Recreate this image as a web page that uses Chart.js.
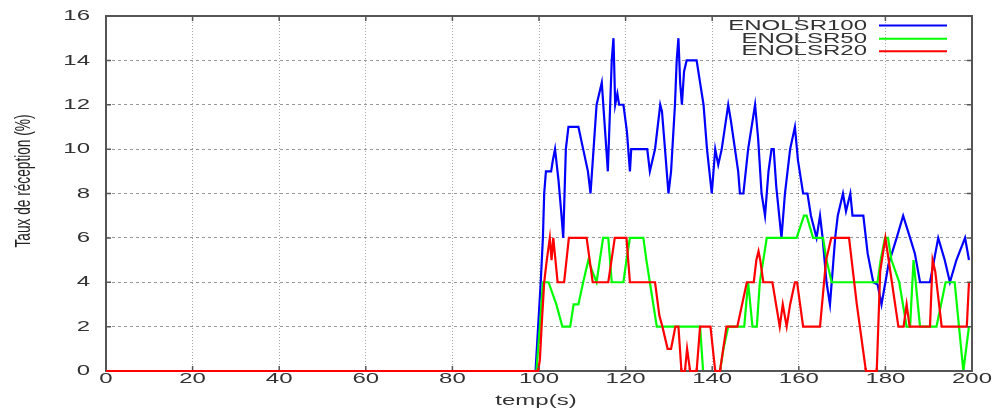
<!DOCTYPE html>
<html>
<head>
<meta charset="utf-8">
<script src="https://cdn.jsdelivr.net/npm/chart.js@4.4.1/dist/chart.umd.min.js"></script>
<style>
  html, body { margin: 0; padding: 0; background: #fff; }
  #wrap { width: 998px; height: 412px; }
</style>
</head>
<body>
<div id="wrap"><canvas id="chart" width="998" height="412"></canvas></div>
<script>
// valeurs (temps en s, taux en %)
const seriesNames = ['ENOLSR100', 'ENOLSR50', 'ENOLSR20'];
const seriesColors = ['#0000ff', '#00ff00', '#ff0000'];

const t100 = [0, 99.2, 99.8, 100.4, 100.9, 101.2, 101.6, 102.8, 103.2, 103.7, 104.5, 105.2, 105.6, 106.2, 106.8, 109.1, 110.2, 111.3, 111.9, 113.3, 114.5, 115.2, 115.9, 116.8, 117.2, 117.6, 118.1, 118.5, 119.5, 120.3, 121, 121.3, 125, 125.6, 126.8, 128, 128.4, 129.1, 129.9, 130.5, 131.4, 131.8, 132.2, 132.6, 133, 133.5, 134.1, 136.4, 137.2, 138, 138.8, 139.9, 140.7, 141.4, 142.2, 143.7, 144.3, 146, 146.4, 147.2, 148.3, 149.9, 150.6, 151.4, 152.2, 153, 153.7, 154.2, 154.8, 156, 156.8, 158, 159.1, 159.8, 161, 162, 162.8, 164.1, 164.9, 165.5, 166.4, 167.2, 168.4, 169, 170.2, 170.9, 171.9, 172.4, 174.9, 175.9, 177.2, 178.2, 179.1, 180, 180.7, 182.6, 184.1, 185.7, 186.8, 188, 190.3, 192.2, 193.7, 194.9, 196.4, 198.4, 199.3];
const v100 = [0, 0, 2, 4, 6, 8, 9, 9, 9.5, 10, 8.6, 7, 6, 10, 11, 11, 10, 9, 8, 12, 13, 11, 9, 14, 15, 12, 12.5, 12, 12, 10.8, 9, 10, 10, 9, 10, 12, 11.7, 10, 8, 9, 12, 14, 15, 13, 12, 13.5, 14, 14, 13, 12, 10, 8, 10, 9.3, 10, 12, 11.3, 9, 8, 8, 10, 12, 10.5, 8, 7, 9, 10, 10, 8.3, 6, 8, 10, 11, 9.5, 8, 8, 7, 6, 7, 6, 4, 3, 6, 7, 8, 7.2, 8, 7, 7, 5.3, 4, 3.9, 3, 4, 4.8, 6, 7, 6, 5.3, 4, 4, 6, 5, 4, 5, 6, 5];

const t50 = [0, 99.4, 100.2, 100.9, 102.2, 104, 105.4, 107.2, 108, 109.1, 110.2, 111.4, 112.3, 113.3, 114.8, 116, 116.8, 119.5, 120.2, 121, 124.1, 124.8, 125.6, 126.4, 127.2, 137.2, 137.9, 141.8, 142.6, 143.7, 147.4, 148.3, 149.3, 150.3, 151, 152.6, 159.5, 161.2, 161.8, 163.3, 165.6, 166.4, 167.6, 178.2, 178.9, 179.9, 180.6, 181.4, 183.2, 184.9, 185.7, 186.5, 188, 191.8, 193.9, 196, 198, 199.3];
const v50 = [0, 0, 2, 4, 4, 3, 2, 2, 3, 3, 4, 5, 4.5, 4, 6, 6, 4, 4, 5, 6, 6, 5, 4, 3, 2, 2, 0, 0, 1, 2, 2, 4, 2, 2, 4, 6, 6, 7, 7, 6, 6, 5, 4, 4, 5, 6, 6, 5, 4, 2, 2, 5, 2, 2, 4, 4, 0, 2];

const t20 = [0, 99.8, 100.2, 100.6, 101.2, 101.8, 102.5, 102.9, 103.3, 104.3, 105.8, 106.9, 111, 112.4, 116, 117.5, 120.2, 121, 126.8, 127.8, 128.5, 129.7, 130.5, 131.5, 132.2, 132.9, 133.7, 134.2, 134.9, 136.4, 137.2, 139.6, 140.7, 141.8, 143.3, 145.8, 148, 149.6, 150.2, 150.7, 151.1, 151.8, 153.9, 155.6, 156.3, 157.2, 158, 159.1, 159.6, 161, 164.9, 166.3, 167.5, 171.6, 173.4, 175.5, 178, 178.8, 180, 181.5, 183, 184.2, 184.9, 185.6, 190.3, 190.9, 191.5, 193, 198.8, 199.3];
const v20 = [0, 0, 0.5, 2, 4, 5, 6, 5, 6, 4, 4, 6, 6, 4, 4, 6, 6, 4, 4, 2.5, 2, 1, 1, 2, 2, 0, 0, 1, 0, 0, 2, 2, 0, 0, 2, 2, 4, 4, 5, 5.4, 5, 4, 4, 2, 3, 2, 3, 4, 4, 2, 2, 5, 6, 6, 3, 0, 0, 4.5, 6, 4, 2, 2, 3, 2, 2, 5, 4.5, 2, 2, 4];

const xTicks = [0, 20, 40, 60, 80, 100, 120, 140, 160, 180, 200];
const yTicks = [0, 2, 4, 6, 8, 10, 12, 14, 16];

const toPoints = (ts, vs) => ts.map((t, i) => ({ x: t, y: vs[i] }));

// le PNG d'origine est étiré horizontalement, on fait pareil pour le texte
const SX = 1.6;
const FONT = '"Liberation Sans", Arial, sans-serif';

function stretchText(ctx, text, x, y, align, size, color) {
    ctx.save();
    ctx.translate(x, y);
    ctx.scale(SX, 1);
    ctx.font = size + 'px ' + FONT;
    ctx.fillStyle = color;
    ctx.textAlign = align;
    ctx.textBaseline = 'middle';
    ctx.fillText(text, 0, 0);
    ctx.restore();
}

const framePlugin = {
    id: 'gnuframe',
    afterDraw(chart) {
        const { ctx, chartArea: a, scales } = chart;

        // cadre + graduations (la grille vient de Chart.js)
        ctx.save();
        ctx.strokeStyle = '#555555';
        ctx.lineWidth = 2;
        ctx.strokeRect(a.left, a.top, a.right - a.left, a.bottom - a.top);
        ctx.lineWidth = 1.5;
        ctx.beginPath();
        xTicks.forEach(v => {
            const px = scales.x.getPixelForValue(v);
            ctx.moveTo(px, a.bottom); ctx.lineTo(px, a.bottom - 5);
            ctx.moveTo(px, a.top); ctx.lineTo(px, a.top + 5);
        });
        yTicks.forEach(v => {
            const py = scales.y.getPixelForValue(v);
            ctx.moveTo(a.left, py); ctx.lineTo(a.left + 5, py);
            ctx.moveTo(a.right, py); ctx.lineTo(a.right - 5, py);
        });
        ctx.stroke();
        ctx.restore();

        // la courbe rouge repasse sur le cadre en bas, comme dans l'original
        const red = chart.getDatasetMeta(2);
        ctx.save();
        ctx.beginPath();
        ctx.rect(a.left, a.bottom - 3, a.right - a.left, 6);
        ctx.clip();
        red.controller.draw();
        ctx.restore();

        // étiquettes des axes
        yTicks.forEach(v => stretchText(ctx, String(v), a.left - 16, scales.y.getPixelForValue(v), 'right', 15, '#333'));
        xTicks.forEach(v => stretchText(ctx, String(v), scales.x.getPixelForValue(v), 379, 'center', 15, '#333'));
        stretchText(ctx, 'temp(s)', (a.left + a.right) / 2 - 3, 401, 'center', 15, '#333');

        // titre vertical
        ctx.save();
        ctx.translate(24, 181);
        ctx.scale(SX, 1);
        ctx.rotate(-Math.PI / 2);
        ctx.font = '13.7px ' + FONT;
        ctx.fillStyle = '#222';
        ctx.textAlign = 'center';
        ctx.textBaseline = 'middle';
        ctx.fillText('Taux de réception (%)', 0, 0);
        ctx.restore();

        // légende façon gnuplot
        const rows = [25.5, 38.8, 51.2];
        seriesNames.forEach((name, i) => {
            stretchText(ctx, name, 867, rows[i], 'right', 15, '#333');
            ctx.save();
            ctx.strokeStyle = seriesColors[i];
            ctx.lineWidth = 2;
            ctx.beginPath();
            ctx.moveTo(879, rows[i]);
            ctx.lineTo(947, rows[i]);
            ctx.stroke();
            ctx.restore();
        });
    }
};

const allSeries = [toPoints(t100, v100), toPoints(t50, v50), toPoints(t20, v20)];

new Chart(document.getElementById('chart'), {
    type: 'line',
    data: {
        datasets: allSeries.map((pts, i) => ({
            label: seriesNames[i],
            data: pts,
            borderColor: seriesColors[i],
            borderWidth: 2.2,
            pointRadius: 0,
            tension: 0,
            fill: false,
            order: 3 - i
        }))
    },
    options: {
        responsive: false,
        animation: false,
        layout: { padding: { left: 0, top: 16, right: 26, bottom: 0 } },
        plugins: { legend: { display: false }, tooltip: { enabled: false } },
        scales: {
            x: {
                type: 'linear',
                min: 0,
                max: 200,
                ticks: { stepSize: 20, display: false },
                grid: { display: true, color: 'rgba(0,0,0,0.35)', lineWidth: 1, drawTicks: false },
                border: { display: false, dash: [1, 2] },
                afterFit(scale) { scale.height = 41; }
            },
            y: {
                min: 0,
                max: 16,
                ticks: { stepSize: 2, display: false },
                grid: { display: true, color: 'rgba(0,0,0,0.4)', lineWidth: 1, drawTicks: false },
                border: { display: false, dash: [3, 3] },
                afterFit(scale) { scale.width = 106; }
            }
        }
    },
    plugins: [framePlugin]
});
</script>
</body>
</html>
